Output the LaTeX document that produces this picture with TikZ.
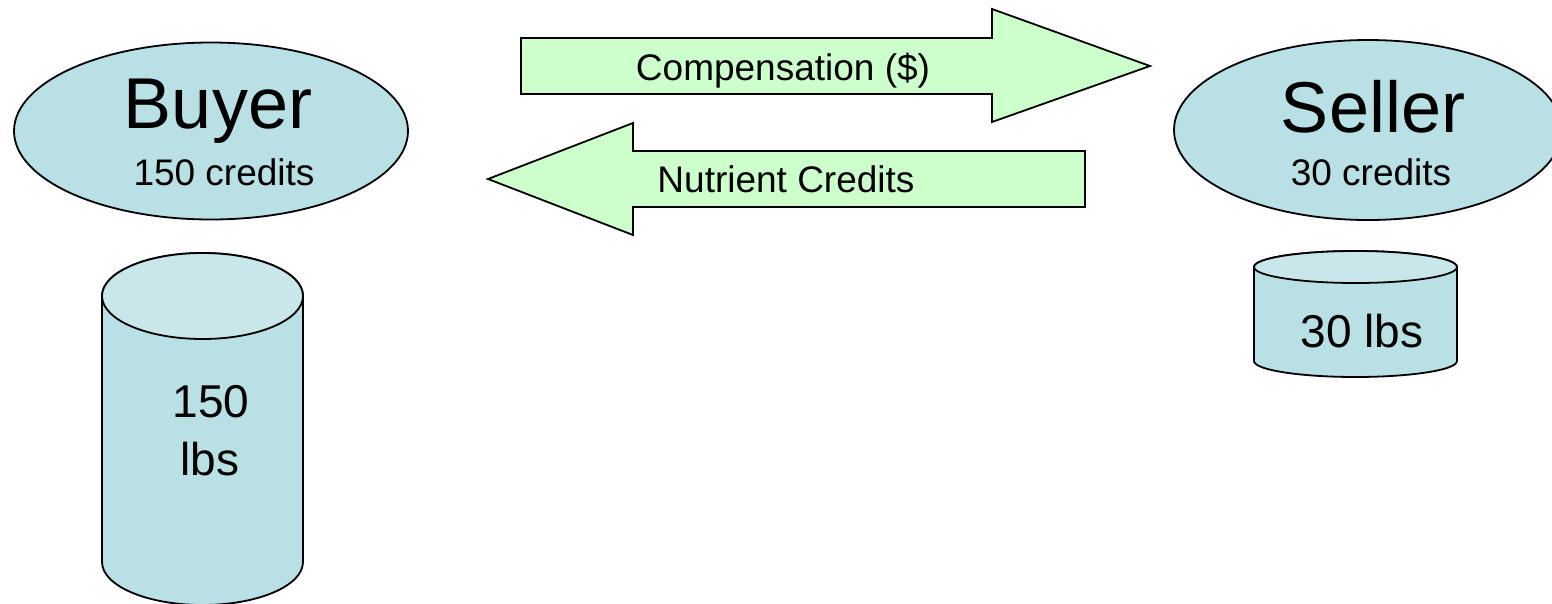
\documentclass[tikz,border=0pt]{standalone}
\usepackage{fontspec}
\setmainfont{Liberation Sans}
\usetikzlibrary{shapes.geometric}
\definecolor{partyblue}{RGB}{185,224,228}
\definecolor{tanklid}{RGB}{201,231,234}
\definecolor{tradegreen}{RGB}{204,255,204}

\begin{document}
\begin{tikzpicture}[x=1pt, y=-1pt,
    party/.style={ellipse, draw=black, fill=partyblue, line width=1.8pt, inner sep=0pt},
    tank/.style={draw=black, fill=partyblue, line width=1.8pt},
    lid/.style={draw=black, fill=tanklid, line width=1.8pt},
    trade/.style={draw=black, fill=tradegreen, line width=1.8pt, line join=miter},
    name text/.style={anchor=base, inner sep=0pt, font=\fontsize{72}{80}\selectfont},
    small text/.style={anchor=base, inner sep=0pt, font=\fontsize{37}{44}\selectfont},
    tank text/.style={anchor=base, inner sep=0pt, font=\fontsize{46}{55}\selectfont}]
            \useasboundingbox (0,0) rectangle (1552,603);
            \clip (0,0) rectangle (1552,603);

            % Buyer and seller
            \node[party, minimum width=394pt, minimum height=177pt] (buyer) at (211,131) {};
            \node[party, minimum width=388pt, minimum height=180pt] (seller) at (1368,130) {};
            \node[name text] (buyername) at (218,128) {Buyer};
            \node[small text] (buyercred) at (224,185) {150 credits};
            \node[name text] (sellername) at (1373,132) {Seller};
            \node[small text] (sellercred) at (1371,185) {30 credits};

            % Trade arrows
            \draw[trade] (521,38) -- (992,38) -- (992,9) -- (1150,66) -- (992,122) -- (992,94) -- (521,94) -- cycle;
            \draw[trade] (1085,151) -- (633,151) -- (633,123) -- (488,179) -- (633,235) -- (633,207) -- (1085,207) -- cycle;
            \node[small text] (pay) at (783,80) {Compensation (\$)};
            \node[small text] (credits) at (786,192) {Nutrient Credits};

            % Buyer tank
            \draw[tank] (102,296) -- (102,562) arc[start angle=180, end angle=0, x radius=100.5, y radius=43]
                -- (303,296) arc[start angle=360, end angle=180, x radius=100.5, y radius=43] -- cycle;
            \draw[lid] (202.5,296) ellipse [x radius=100.5, y radius=43];
            \node[tank text] (buyerload) at (211,417) {150};
            \node[tank text] (buyerunit) at (210,475) {lbs};

            % Seller tank
            \draw[tank] (1254,267) -- (1254,361) arc[start angle=180, end angle=0, x radius=101.5, y radius=16]
                -- (1457,267) arc[start angle=360, end angle=180, x radius=101.5, y radius=16] -- cycle;
            \draw[lid] (1355.5,267) ellipse [x radius=101.5, y radius=16];
            \node[tank text] (sellerload) at (1362,347) {30 lbs};
        \end{tikzpicture}
\end{document}
